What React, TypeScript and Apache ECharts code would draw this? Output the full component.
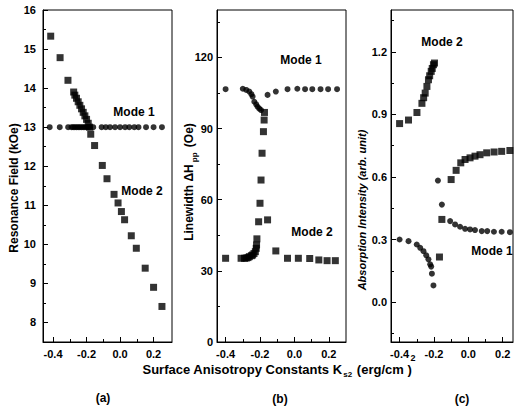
import React, { useEffect, useRef } from "react";
import * as echarts from "echarts";

// ---------- Data ----------
// Panel (a): Resonance field (kOe)
const aMode1X = [-0.42, -0.36, -0.31, -0.29, -0.28, -0.27, -0.26, -0.25, -0.24, -0.23, -0.22, -0.21, -0.2, -0.19, -0.18, -0.16, -0.11, -0.085, -0.06, -0.03, 0.0, 0.03, 0.055, 0.085, 0.11, 0.155, 0.2, 0.25];
const aMode1Y = [13.0, 13.0, 13.0, 13.0, 13.0, 13.0, 13.0, 13.0, 13.0, 13.0, 13.0, 13.0, 13.0, 13.0, 13.0, 13.0, 13.0, 13.0, 13.0, 13.0, 13.0, 13.0, 13.0, 13.0, 13.0, 13.0, 13.0, 13.0];
const aMode2X = [-0.414, -0.358, -0.311, -0.277, -0.27, -0.26, -0.25, -0.24, -0.23, -0.22, -0.21, -0.2, -0.19, -0.182, -0.175, -0.152, -0.106, -0.078, -0.036, -0.012, 0.008, 0.027, 0.067, 0.097, 0.15, 0.2, 0.25];
const aMode2Y = [15.33, 14.78, 14.2, 13.9, 13.82, 13.74, 13.65, 13.56, 13.47, 13.38, 13.29, 13.2, 13.1, 13.0, 12.82, 12.53, 12.02, 11.68, 11.28, 11.06, 10.84, 10.63, 10.22, 9.9, 9.39, 8.9, 8.41];

// Panel (b): Linewidth (Oe)
const bMode1X = [-0.4, -0.3, -0.28, -0.262, -0.25, -0.243, -0.233, -0.222, -0.214, -0.204, -0.194, -0.156, -0.108, -0.04, 0.017, 0.062, 0.104, 0.152, 0.196, 0.248];
const bMode1Y = [106.6, 106.8, 106.3, 105.6, 104.5, 103.5, 101.3, 100.2, 99.2, 98.4, 97.8, 104.2, 105.6, 106.6, 106.8, 106.6, 106.6, 106.6, 106.6, 106.6];
const bMode2X = [-0.4, -0.31, -0.29, -0.28, -0.27, -0.262, -0.25, -0.243, -0.235, -0.227, -0.222, -0.22, -0.218, -0.208, -0.2, -0.194, -0.188, -0.18, -0.176, -0.174, -0.156, -0.108, -0.04, 0.023, 0.089, 0.142, 0.19, 0.238];
const bMode2Y = [35.3, 35.3, 35.3, 35.4, 35.6, 36.0, 36.4, 36.7, 37.3, 38.1, 39.5, 40.9, 43.5, 50.7, 58.5, 68.3, 79.6, 88.7, 93.6, 96.8, 51.5, 38.4, 35.3, 35.3, 35.2, 34.6, 34.3, 34.3];

// Panel (c): Absorption intensity (arb. unit)
const cMode1X = [-0.4, -0.348, -0.3, -0.28, -0.261, -0.245, -0.232, -0.222, -0.216, -0.212, -0.203, -0.177, -0.154, -0.106, -0.077, -0.048, -0.019, 0.01, 0.039, 0.078, 0.11, 0.149, 0.194, 0.242];
const cMode1Y = [0.301, 0.293, 0.277, 0.261, 0.245, 0.225, 0.206, 0.182, 0.171, 0.137, 0.081, 0.583, 0.468, 0.389, 0.373, 0.362, 0.352, 0.349, 0.346, 0.341, 0.341, 0.338, 0.338, 0.336];
const cMode2X = [-0.4, -0.348, -0.299, -0.27, -0.26, -0.251, -0.241, -0.232, -0.225, -0.216, -0.21, -0.203, -0.197, -0.168, -0.154, -0.1, -0.071, -0.044, -0.019, 0.01, 0.039, 0.068, 0.107, 0.15, 0.194, 0.242];
const cMode2Y = [0.856, 0.873, 0.909, 0.953, 0.98, 1.002, 1.034, 1.066, 1.085, 1.106, 1.12, 1.138, 1.146, 0.217, 0.397, 0.588, 0.632, 0.668, 0.684, 0.692, 0.7, 0.707, 0.716, 0.72, 0.723, 0.727];

// Ticks
const xMajor = [-0.4, -0.2, 0.0, 0.2];
const xMinor = [-0.3, -0.1, 0.1];
const aYMajor = [8, 9, 10, 11, 12, 13, 14, 15, 16];
const aYMinor = [8.5, 9.5, 10.5, 11.5, 12.5, 13.5, 14.5, 15.5];
const bYMajor = [0, 30, 60, 90, 120];
const bYMinor = [15, 45, 75, 105, 135];
const cYMajor = [0.0, 0.3, 0.6, 0.9, 1.2];
const cYMinor = [-0.15, 0.15, 0.45, 0.75, 1.05, 1.35];

const FONT = "'Liberation Sans', Arial, sans-serif";
const NARROW = "'Liberation Sans Narrow', 'Liberation Sans', Arial, sans-serif";

const zip = (xs: number[], ys: number[]) => xs.map((x, i) => [x, ys[i]]);

export default function App() {
  const ref = useRef<HTMLDivElement>(null);
  useEffect(() => {
    if (!ref.current) return;
    const chart = echarts.init(ref.current, null, { renderer: "svg" });

    const grids = [
      { left: 43, top: 10, width: 129, height: 332 },
      { left: 217, top: 10, width: 129, height: 332 },
      { left: 391, top: 10, width: 122, height: 332 },
    ].map((g) => ({ ...g, show: true, borderColor: "#000", borderWidth: 1, backgroundColor: "transparent" }));

    const xRanges = [
      [-0.46, 0.31],
      [-0.45, 0.3],
      [-0.45, 0.26],
    ];
    const yRanges = [
      [7.5, 16],
      [0, 140],
      [-0.19, 1.4],
    ];
    const yMaj = [aYMajor, bYMajor, cYMajor];
    const yMin = [aYMinor, bYMinor, cYMinor];
    const yFmt = [
      (v: number) => String(Math.round(v)),
      (v: number) => String(Math.round(v)),
      (v: number) => v.toFixed(1),
    ];
    const yMargin = [7, 4, 4];

    const labelStyle = { color: "#000", fontSize: 11, fontWeight: "bold", fontFamily: FONT };

    const xAxis: any[] = [];
    const yAxis: any[] = [];
    for (let i = 0; i < 3; i++) {
      xAxis.push({
        gridIndex: i, type: "value", min: xRanges[i][0], max: xRanges[i][1], position: "bottom",
        axisLine: { show: true, onZero: false, lineStyle: { color: "#000", width: 1 } },
        axisTick: { show: true, inside: true, length: 5, customValues: xMajor, lineStyle: { color: "#000", width: 1 } },
        axisLabel: { ...labelStyle, customValues: xMajor, margin: 6, formatter: (v: number) => v.toFixed(1) },
        splitLine: { show: false },
      });
      xAxis.push({
        gridIndex: i, type: "value", min: xRanges[i][0], max: xRanges[i][1], position: "bottom",
        axisLine: { show: false, onZero: false },
        axisTick: { show: true, inside: true, length: 3, customValues: xMinor, lineStyle: { color: "#000", width: 1 } },
        axisLabel: { show: false },
        splitLine: { show: false },
      });
      yAxis.push({
        gridIndex: i, type: "value", min: yRanges[i][0], max: yRanges[i][1], position: "left",
        axisLine: { show: true, onZero: false, lineStyle: { color: "#000", width: 1 } },
        axisTick: { show: true, inside: true, length: 5, customValues: yMaj[i], lineStyle: { color: "#000", width: 1 } },
        axisLabel: { ...labelStyle, customValues: yMaj[i], margin: yMargin[i], formatter: yFmt[i] },
        splitLine: { show: false },
      });
      yAxis.push({
        gridIndex: i, type: "value", min: yRanges[i][0], max: yRanges[i][1], position: "left",
        axisLine: { show: false, onZero: false },
        axisTick: { show: true, inside: true, length: 3, customValues: yMin[i], lineStyle: { color: "#000", width: 1 } },
        axisLabel: { show: false },
        splitLine: { show: false },
      });
    }

    const sq = (data: number[][], i: number, size = 7) => ({
      type: "scatter", xAxisIndex: 2 * i, yAxisIndex: 2 * i, data, symbol: "rect", symbolSize: size,
      itemStyle: { color: "#000" }, silent: true,
    });
    const ci = (data: number[][], i: number, size = 6) => ({
      type: "scatter", xAxisIndex: 2 * i, yAxisIndex: 2 * i, data, symbol: "circle", symbolSize: size,
      itemStyle: { color: "#000" }, silent: true,
    });

    const txt = (x: number, y: number, text: string, size = 12, extra: any = {}) => ({
      type: "text", x, y, silent: true,
      style: { text, fill: "#000", font: `bold ${size}px ${FONT}`, align: "center", verticalAlign: "middle", ...extra },
    });

    const option: any = {
      animation: false,
      backgroundColor: "#fff",
      grid: grids,
      xAxis,
      yAxis,
      series: [
        ci(zip(aMode1X, aMode1Y), 0, 6),
        sq(zip(aMode2X, aMode2Y), 0, 7),
        ci(zip(bMode1X, bMode1Y), 1, 6),
        sq(zip(bMode2X, bMode2Y), 1, 7),
        ci(zip(cMode1X, cMode1Y), 2, 6),
        sq(zip(cMode2X, cMode2Y), 2, 7),
      ],
      graphic: [
        txt(134, 112, "Mode 1"),
        txt(142, 191, "Mode 2"),
        txt(301, 60, "Mode 1"),
        txt(312, 232, "Mode 2"),
        txt(442, 42, "Mode 2"),
        txt(492, 251, "Mode 1"),
        txt(103, 398, "(a)"),
        txt(280, 399, "(b)"),
        txt(462, 399, "(c)"),
        txt(413, 358, "2", 9),
        {
          type: "text", x: 14, y: 188, rotation: Math.PI / 2, silent: true,
          style: { text: "Resonance Field (kOe)", fill: "#000", font: `bold 12px ${FONT}`, align: "center", verticalAlign: "middle" },
        },
        {
          type: "text", x: 189, y: 182, rotation: Math.PI / 2, silent: true,
          style: {
            text: "Linewidth ΔH{sub|pp} (Oe)", fill: "#000", font: `bold 12px ${FONT}`, align: "center", verticalAlign: "middle",
            rich: { sub: { font: `bold 8px ${FONT}`, fill: "#000", verticalAlign: "bottom", lineHeight: 18, padding: [6, 2, 0, 2] } },
          },
        },
        {
          type: "text", x: 362, y: 210, rotation: Math.PI / 2, silent: true,
          style: { text: "Absorption Intensity (arb. unit)", fill: "#000", font: `italic bold 11px ${FONT}`, align: "center", verticalAlign: "middle" },
        },
        {
          type: "text", x: 277, y: 369, silent: true,
          style: {
            text: "Surface Anisotropy Constants K{sub|s2} (erg/cm )", fill: "#000", font: `bold 13px ${NARROW}`,
            align: "center", verticalAlign: "middle",
            rich: { sub: { font: `bold 8px ${FONT}`, fill: "#000", verticalAlign: "bottom", lineHeight: 18, padding: [5, 1, 0, 1] } },
          },
        },
      ],
    };
    chart.setOption(option);
    return () => chart.dispose();
  }, []);

  return <div ref={ref} style={{ position: "fixed", left: 0, top: 0, width: 520, height: 409, background: "#fff" }} />;
}
